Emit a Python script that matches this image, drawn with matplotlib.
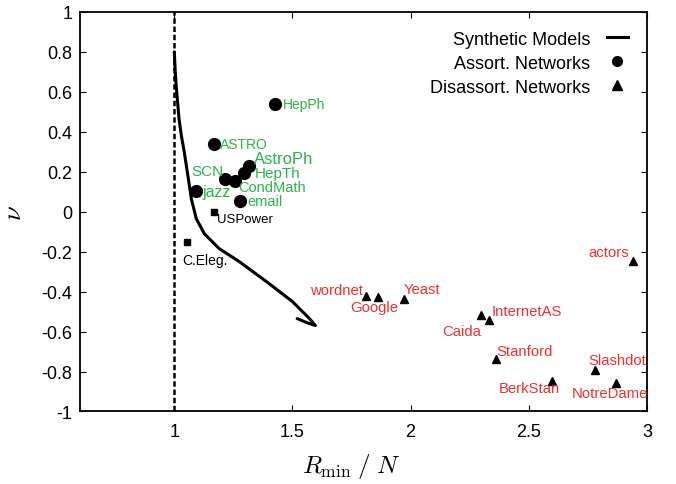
import matplotlib
matplotlib.use('Agg')
from matplotlib import pyplot as plt
from matplotlib.lines import Line2D

plt.rcParams['font.family'] = ['Liberation Sans', 'DejaVu Sans']
plt.rcParams['mathtext.fontset'] = 'cm'

# synthetic model curve
curve_x = [1.000, 1.004, 1.008, 1.020, 1.030, 1.042, 1.055, 1.072, 1.093,
           1.127, 1.190, 1.275, 1.390, 1.500, 1.572, 1.597, 1.560, 1.520]
curve_y = [0.80, 0.70, 0.63, 0.465, 0.38, 0.30, 0.20, 0.065, -0.035,
           -0.11, -0.185, -0.25, -0.35, -0.45, -0.535, -0.57, -0.555, -0.535]

# assortative networks (circles)
assort_names = ['HepPh', 'ASTRO', 'AstroPh', 'HepTh', 'SCN', 'CondMath', 'jazz', 'email']
assort_x = [1.428, 1.170, 1.318, 1.297, 1.216, 1.258, 1.093, 1.280]
assort_y = [0.54, 0.34, 0.23, 0.195, 0.165, 0.155, 0.105, 0.055]

# other networks (squares)
other_names = ['USPower', 'C.Eleg.']
other_x = [1.170, 1.055]
other_y = [0.0, -0.15]

# disassortative networks (triangles)
dis_names = ['wordnet', 'Google', 'Yeast', 'Caida', 'InternetAS', 'Stanford',
             'BerkStan', 'Slashdot', 'NotreDame', 'actors']
dis_x = [1.810, 1.864, 1.970, 2.297, 2.330, 2.360, 2.600, 2.780, 2.870, 2.940]
dis_y = [-0.42, -0.425, -0.435, -0.515, -0.54, -0.735, -0.845, -0.79, -0.855, -0.245]

green = '#2db24a'
red = '#f03030'

# label placement: (dx px, dy px up, ha, fontsize)
assort_lab = [(7, 0, 'left', 10), (5, 0, 'left', 10), (5, 7, 'left', 12),
              (10, 0, 'left', 11), (-2, 8, 'right', 11), (3, -6, 'left', 10.5),
              (6, -1, 'left', 11.5), (7, 0, 'left', 10.5)]
other_lab = [(3, -7, 'left', 9.5), (-5, -18, 'left', 10)]
dis_lab = [(-3, 6, 'right'), (-4, -10, 'center'), (0, 10, 'left'),
           (0, -16, 'right'), (3, 9, 'left'), (1, 8, 'left'),
           (8, -7, 'right'), (-7, 10, 'left'), (-6, -10, 'center'),
           (-4, 9, 'right')]

fig = plt.figure(figsize=(6.76, 4.85), dpi=100)
ax = fig.add_axes([0.118, 0.1495, 0.839, 0.824])

ax.axvline(1.0, color='black', lw=1.8, dashes=(2.2, 1.1))
ax.plot(curve_x, curve_y, color='black', lw=2.2, solid_capstyle='round')
ax.plot(assort_x, assort_y, 'o', color='black', ms=8.5)
ax.plot(other_x, other_y, 's', color='black', ms=4.5)
ax.plot(dis_x, dis_y, '^', color='black', ms=6)

k = 0.72
for n, x, y, (dx, dy, ha, fs) in zip(assort_names, assort_x, assort_y, assort_lab):
    ax.annotate(n, (x, y), xytext=(dx * k, dy * k), textcoords='offset points',
                ha=ha, va='center', color=green, fontsize=fs)
for n, x, y, (dx, dy, ha, fs) in zip(other_names, other_x, other_y, other_lab):
    ax.annotate(n, (x, y), xytext=(dx * k, dy * k), textcoords='offset points',
                ha=ha, va='center', color='black', fontsize=fs)
for n, x, y, (dx, dy, ha) in zip(dis_names, dis_x, dis_y, dis_lab):
    ax.annotate(n, (x, y), xytext=(dx * k, dy * k), textcoords='offset points',
                ha=ha, va='center', color=red, fontsize=10.7)

ax.set_xlim(0.6, 3.0)
ax.set_ylim(-1, 1)
ax.set_xticks([1, 1.5, 2, 2.5, 3])
ax.set_xticklabels(['1', '1.5', '2', '2.5', '3'])
ax.set_yticks([-1, -0.8, -0.6, -0.4, -0.2, 0, 0.2, 0.4, 0.6, 0.8, 1])
ax.set_yticklabels(['-1', '-0.8', '-0.6', '-0.4', '-0.2', '0', '0.2', '0.4', '0.6', '0.8', '1'])
ax.tick_params(direction='in', top=True, right=True, labelsize=13, length=4)
ax.tick_params(axis='x', pad=8.5)
ax.tick_params(axis='y', pad=5.5)
for s in ax.spines.values():
    s.set_linewidth(1.3)

ax.set_xlabel(r'$R_{\rm min}\;/\;N$', fontsize=18)
ax.xaxis.set_label_coords(0.478, -0.098)
ax.set_ylabel(r'$\nu$', fontsize=19)
ax.yaxis.set_label_coords(-0.094, 0.5)

handles = [
    Line2D([], [], color='black', lw=2.2),
    Line2D([], [], marker='o', color='black', ls='none', ms=7),
    Line2D([], [], marker='^', color='black', ls='none', ms=7),
]
ax.legend(handles, ['Synthetic Models', 'Assort. Networks', 'Disassort. Networks'],
          loc='upper right', frameon=False, markerfirst=False, fontsize=13,
          handlelength=1.17, handletextpad=0.9, labelspacing=0.38,
          borderaxespad=0.6, borderpad=0.45)

fig.savefig('out.png', dpi=100)
